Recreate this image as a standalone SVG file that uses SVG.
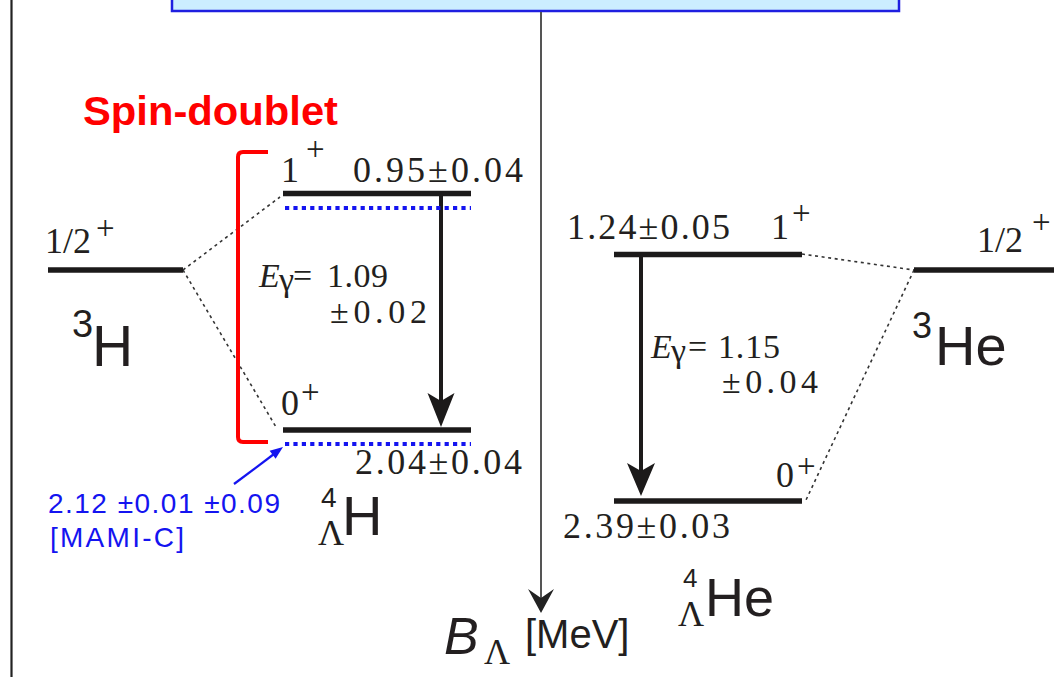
<svg xmlns="http://www.w3.org/2000/svg" width="1058" height="677" viewBox="0 0 1058 677">
<style>
.lvl{stroke:#1c1a1a;stroke-width:5.5;fill:none}
.dot{stroke:#333;stroke-width:1.6;stroke-dasharray:3 3.6;fill:none}
.bdot{stroke:#1414f0;stroke-width:4;stroke-dasharray:4.2 4.2;fill:none}
.num{font-family:"Liberation Serif","Times New Roman","DejaVu Serif",serif;font-size:36px;fill:#231f20}
.sup{font-family:"Liberation Serif","Times New Roman","DejaVu Serif",serif;font-size:33px;fill:#231f20}
.eg{font-family:"Liberation Serif","Times New Roman","DejaVu Serif",serif;font-size:34px;fill:#231f20}
.nuc{font-family:"Liberation Sans",Arial,sans-serif;fill:#231f20}
.blue{font-family:"Liberation Sans",Arial,sans-serif;font-size:28px;fill:#1414f0}
.garrow{stroke:#1c1a1a;stroke-width:4;fill:none}
</style>
<rect width="1058" height="677" fill="#ffffff"/>
<line x1="11.5" y1="0" x2="11.5" y2="677" stroke="#222" stroke-width="2.2"/>
<g id="title-box">
<rect x="172" y="-12" width="727" height="23" fill="#cceeff" stroke="#1f1fe0" stroke-width="2.5"/>
</g>
<g id="connectors">
<line x1="541" y1="12" x2="541" y2="600" stroke="#555" stroke-width="2"/>
<polygon points="541,613 528,589 541,598 554,589" fill="#222"/>
<line class="dot" x1="183" y1="270" x2="280" y2="197"/>
<line class="dot" x1="183" y1="270" x2="276" y2="427"/>
<line class="dot" x1="802" y1="254" x2="914" y2="270"/>
<line class="dot" x1="914" y1="270" x2="806" y2="500"/>
<line class="garrow" x1="441" y1="193" x2="441" y2="405"/>
<polygon points="441,427 427.5,393 441,401 454.5,393" fill="#1c1a1a"/>
<line class="garrow" x1="641" y1="254" x2="641" y2="472"/>
<polygon points="641,496 627,463 641,471 655,463" fill="#1c1a1a"/>
<line x1="234" y1="484" x2="274" y2="454" stroke="#1414f0" stroke-width="2.2"/>
<polygon points="283,447 275.6,458.8 269.6,450.8" fill="#1414f0"/>
</g>
<g id="spin-doublet">
<text x="83" y="125" font-family="'Liberation Sans',Arial,sans-serif" font-weight="bold" font-size="40" fill="#ff0000" textLength="255" lengthAdjust="spacingAndGlyphs">Spin-doublet</text>
<path d="M268 152 L243 152 Q238 152 238 157 L238 437 Q238 442 243 442 L268 442" stroke="#ff0000" stroke-width="4" fill="none"/>
</g>
<g id="H3">
<line class="lvl" x1="48" y1="270" x2="183" y2="270"/>
<text class="num" x="45" y="253">1/2</text>
<text class="sup" x="96" y="239.4">+</text>
<text class="nuc" x="72" y="337" font-size="38">3</text>
<text class="nuc" x="92" y="366" font-size="57">H</text>
</g>
<g id="H4L">
<line class="lvl" x1="283" y1="193.5" x2="471" y2="193.5"/>
<line class="bdot" x1="285" y1="208" x2="471" y2="208"/>
<text class="num" x="281" y="182">1</text>
<text class="sup" x="306" y="159.9" font-size="29">+</text>
<text class="num" x="353" y="182" textLength="170" lengthAdjust="spacing">0.95±0.04</text>
<line class="lvl" x1="283" y1="430" x2="471" y2="430"/>
<line class="bdot" x1="285" y1="444" x2="471" y2="444"/>
<text class="num" x="281" y="415">0</text>
<text class="sup" x="301" y="403.4">+</text>
<text class="num" x="355" y="474" textLength="167" lengthAdjust="spacing">2.04±0.04</text>
<text class="eg" x="259" y="287" font-style="italic">E</text>
<text class="eg" x="279" y="291" font-size="24">γ</text>
<text class="eg" x="293" y="287" font-size="30">=</text>
<text class="eg" x="327" y="287" textLength="61" lengthAdjust="spacing">1.09</text>
<text class="eg" x="330" y="323" textLength="97" lengthAdjust="spacing">±0.02</text>
<text class="nuc" x="321" y="507" font-size="28">4</text>
<text class="num" x="318" y="545" font-size="32">Λ</text>
<text class="nuc" x="342" y="535" font-size="56">H</text>
</g>
<g id="MAMI">
<text class="blue" x="48" y="513" textLength="232" lengthAdjust="spacing">2.12 ±0.01 ±0.09</text>
<text class="blue" x="50" y="547" textLength="134" lengthAdjust="spacing">[MAMI-C]</text>
</g>
<g id="He4L">
<line class="lvl" x1="614" y1="254.5" x2="802" y2="254.5"/>
<text class="num" x="567" y="239" textLength="163" lengthAdjust="spacing">1.24±0.05</text>
<text class="num" x="771" y="239">1</text>
<text class="sup" x="792" y="224.4">+</text>
<line class="lvl" x1="614" y1="501" x2="802" y2="501"/>
<text class="num" x="776" y="487">0</text>
<text class="sup" x="797" y="476.9">+</text>
<text class="num" x="563" y="538" textLength="167" lengthAdjust="spacing">2.39±0.03</text>
<text class="eg" x="651" y="358" font-style="italic">E</text>
<text class="eg" x="671" y="362" font-size="24">γ</text>
<text class="eg" x="688" y="358" font-size="30">=</text>
<text class="eg" x="718" y="358" textLength="62" lengthAdjust="spacing">1.15</text>
<text class="eg" x="722" y="393" textLength="96" lengthAdjust="spacing">±0.04</text>
<text class="nuc" x="683" y="587" font-size="26">4</text>
<text class="num" x="678" y="626" font-size="30">Λ</text>
<text class="nuc" x="705" y="616" font-size="54">He</text>
</g>
<g id="He3">
<line class="lvl" x1="914" y1="270" x2="1054" y2="270"/>
<text class="num" x="977" y="252">1/2</text>
<text class="sup" x="1032" y="233.4">+</text>
<text class="nuc" x="912" y="338" font-size="36">3</text>
<text class="nuc" x="935" y="365" font-size="56">He</text>
</g>
<g id="axis-label">
<text class="nuc" x="444" y="654" font-size="52" font-style="italic">B</text>
<text class="num" x="484" y="664" font-size="28">Λ</text>
<text class="nuc" x="525" y="648" font-size="40">[MeV]</text>
</g>
</svg>
